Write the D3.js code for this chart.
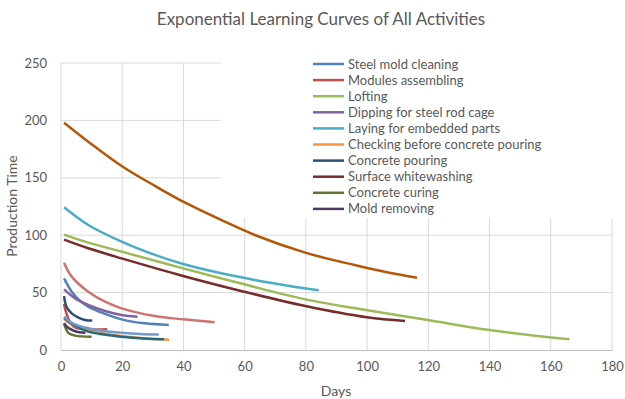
<!DOCTYPE html>
<html>
<head>
<meta charset="utf-8">
<script src="https://cdn.jsdelivr.net/npm/d3@7/dist/d3.min.js"></script>
<style>
  html, body { margin: 0; padding: 0; background: #fff; }
  svg { display: block; }
  text { font-family: Lato, "Open Sans", sans-serif; fill: #595959; }
</style>
</head>
<body>
<svg id="chart" width="625" height="399"></svg>
<script>
// Days vs. production time for each activity, [day, time] pairs
const steelMold = [[1,62.4],[3.5,50.8],[6,43.5],[8.9,37.7],[14.4,31.4],[19.8,26.7],[27.4,23.2],[35.2,21.8]];
const modulesAssembling = [[1,40],[1.6,33.4],[3,24],[4.6,19.7],[8.9,18],[15.1,18]];
const lofting = [[1,100.5],[8.9,93.5],[19.8,85.7],[39.9,71.1],[59.8,57.2],[79.8,44.1],[97.6,35.7],[119.8,26.1],[140,17.4],[166.1,9.3]];
const dipping = [[1,52.8],[4.6,45],[8.9,39.2],[14.4,34],[19.8,30.5],[25,29]];
const laying = [[1,124.3],[8.9,108.9],[19.8,94.4],[30.7,82.8],[39.9,74.9],[52.4,66.8],[63.3,61],[74.2,56],[84.2,52]];
const checking = [[1,27],[3,23],[6,19.5],[10,16.5],[15,14],[20,12],[27,10.2],[35.3,9]];
const concretePouring = [[1,47],[1.8,37.7],[3.5,31.9],[5.7,28.2],[7.8,26.1],[10.2,25.6]];
const whitewashing = [[1,96.1],[8.9,88.6],[19.8,79.8],[39.9,64.5],[59.8,50.8],[79.8,38.3],[99.9,28.5],[112.4,25.3]];
const curing = [[1,23],[2.4,15],[4.6,12.5],[10,11.6]];
const moldRemoving = [[1,23.5],[2,20],[4,17],[6,15.5],[8,15]];
const series11 = [[1,28],[4,22],[8.9,16],[14,13.5],[19.8,11.6],[27,10],[33.6,9.3]];
const series12 = [[1,198],[8.9,181.5],[19.8,160.3],[30.7,142.9],[39.9,129.2],[52.4,113.2],[63.3,100.2],[79.8,84.8],[95.9,74],[105.7,68.2],[116.3,63]];
const series13 = [[1,29],[4,23],[8.9,18.9],[14,16.5],[19.8,15.1],[26,14],[32,13.4]];
const series14 = [[1,76.1],[3.5,63.9],[8.9,50.8],[14.4,42.1],[19.8,36.3],[30.7,29.6],[39.9,26.7],[50.2,24.1]];

const seriesNames = ["Steel mold cleaning","Modules assembling","Lofting","Dipping for steel rod cage",
  "Laying for embedded parts","Checking before concrete pouring","Concrete pouring",
  "Surface whitewashing","Concrete curing","Mold removing","Series 11","Series 12","Series 13","Series 14"];
const seriesData = [steelMold, modulesAssembling, lofting, dipping, laying, checking, concretePouring,
  whitewashing, curing, moldRemoving, series11, series12, series13, series14];
const seriesColors = ["#4F81BD","#C0504D","#9BBB59","#8064A2","#4BACC6","#F79646","#2C4D75",
  "#772C2A","#5F7530","#4D3B62","#276A7C","#B65708","#729ACA","#CD7371"];
const legendCount = 10;

const xTicks = [0,20,40,60,80,100,120,140,160,180];
const yTicks = [0,50,100,150,200,250];

const svg = d3.select("#chart");
const plot = { left: 61, right: 612, top: 63, bottom: 350 };

const x = d3.scaleLinear().domain([0, 180]).range([plot.left, plot.right]);
const y = d3.scaleLinear().domain([0, 250]).range([plot.bottom, plot.top]);

// gridlines
const grid = svg.append("g");
grid.selectAll("line.h").data(yTicks.filter(d => d > 0)).join("line")
  .attr("x1", plot.left).attr("x2", plot.right)
  .attr("y1", d => y(d)).attr("y2", d => y(d))
  .attr("stroke", "#d9d9d9").attr("stroke-width", 1);
grid.selectAll("line.v").data(xTicks).join("line")
  .attr("x1", d => x(d)).attr("x2", d => x(d))
  .attr("y1", plot.top).attr("y2", plot.bottom)
  .attr("stroke", "#d9d9d9").attr("stroke-width", 1);

// x axis
const xAxis = svg.append("g").attr("transform", `translate(0,${plot.bottom})`)
  .call(d3.axisBottom(x).tickValues(xTicks).tickSize(0).tickPadding(12));
xAxis.select(".domain").attr("stroke", "#bfbfbf").attr("stroke-width", 1);
xAxis.selectAll("text").style("font-size", "13px").attr("fill", "#595959")
  .style("font-family", "Lato, 'Open Sans', sans-serif");

// y axis
const yAxis = svg.append("g").attr("transform", `translate(${plot.left},0)`)
  .call(d3.axisLeft(y).tickValues(yTicks).tickSize(0).tickPadding(14));
yAxis.select(".domain").remove();
yAxis.selectAll("text").style("font-size", "13px").attr("fill", "#595959")
  .style("font-family", "Lato, 'Open Sans', sans-serif");

// curves
const line = d3.line().x(d => x(d[0])).y(d => y(d[1])).curve(d3.curveCatmullRom.alpha(0.5));
svg.append("g").selectAll("path").data(seriesData).join("path")
  .attr("d", line)
  .attr("fill", "none")
  .attr("stroke", (d, i) => seriesColors[i])
  .attr("stroke-width", 2.5)
  .attr("stroke-linejoin", "round");

// legend
const legend = svg.append("g");
legend.append("rect").attr("x", 221).attr("y", 52).attr("width", plot.right - 221 + 1).attr("height", 166)
  .attr("fill", "#fff");
const items = legend.selectAll("g.item").data(seriesNames.slice(0, legendCount)).join("g")
  .attr("transform", (d, i) => `translate(313,${64 + i * 16.1})`);
items.append("line").attr("x1", 0).attr("x2", 31).attr("y1", 0).attr("y2", 0)
  .attr("stroke", (d, i) => seriesColors[i]).attr("stroke-width", 2.5);
items.append("text").attr("x", 35).attr("y", 0).attr("dy", "0.35em")
  .style("font-size", "13px").text(d => d);

// titles
svg.append("text").attr("x", 321).attr("y", 25).attr("text-anchor", "middle")
  .style("font-size", "17px").text("Exponential Learning Curves of All Activities");
svg.append("text").attr("x", 336).attr("y", 396).attr("text-anchor", "middle")
  .style("font-size", "14px").text("Days");
svg.append("text").attr("transform", "translate(17,206) rotate(-90)").attr("text-anchor", "middle")
  .style("font-size", "14px").text("Production Time");
</script>
</body>
</html>
